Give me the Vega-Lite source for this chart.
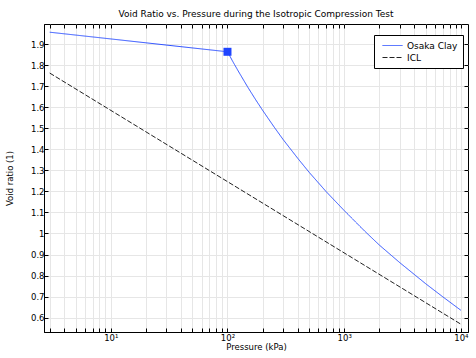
{
  "$schema": "https://vega.github.io/schema/vega-lite/v6.json",
  "width": 424,
  "height": 308,
  "autosize": {"type": "none"},
  "padding": {"left": 44, "top": 24, "right": 8, "bottom": 26},
  "title": {"text": "Void Ratio vs. Pressure during the Isotropic Compression Test", "font": "DejaVu Sans", "fontSize": 9, "fontWeight": "normal", "color": "black", "offset": 5},
  "config": {
    "view": {"stroke": "black", "strokeWidth": 1},
    "font": "DejaVu Sans",
    "axis": {
      "domainColor": "black",
      "tickColor": "black",
      "gridColor": "#e6e6e6",
      "gridWidth": 1,
      "labelFont": "DejaVu Sans",
      "labelFontSize": 8.5,
      "labelColor": "black",
      "titleFont": "DejaVu Sans",
      "titleFontSize": 8.5,
      "titleFontWeight": "normal",
      "titleColor": "black",
      "tickSize": -4
    },
    "legend": {"labelFont": "DejaVu Sans", "labelFontSize": 9}
  },
  "datasets": {
    "curves": [
      {"series": "Osaka Clay", "p": 3, "e": 1.956},
      {"series": "Osaka Clay", "p": 100, "e": 1.863},
      {"series": "Osaka Clay", "p": 105, "e": 1.842},
      {"series": "Osaka Clay", "p": 110, "e": 1.821},
      {"series": "Osaka Clay", "p": 115, "e": 1.802},
      {"series": "Osaka Clay", "p": 125, "e": 1.767},
      {"series": "Osaka Clay", "p": 150, "e": 1.693},
      {"series": "Osaka Clay", "p": 175, "e": 1.634},
      {"series": "Osaka Clay", "p": 200, "e": 1.585},
      {"series": "Osaka Clay", "p": 250, "e": 1.507},
      {"series": "Osaka Clay", "p": 300, "e": 1.446},
      {"series": "Osaka Clay", "p": 400, "e": 1.357},
      {"series": "Osaka Clay", "p": 500, "e": 1.291},
      {"series": "Osaka Clay", "p": 700, "e": 1.199},
      {"series": "Osaka Clay", "p": 1000, "e": 1.109},
      {"series": "Osaka Clay", "p": 1500, "e": 1.011},
      {"series": "Osaka Clay", "p": 2000, "e": 0.945},
      {"series": "Osaka Clay", "p": 3000, "e": 0.861},
      {"series": "Osaka Clay", "p": 5000, "e": 0.761},
      {"series": "Osaka Clay", "p": 7000, "e": 0.699},
      {"series": "Osaka Clay", "p": 10000, "e": 0.635},
      {"series": "ICL", "p": 3, "e": 1.762},
      {"series": "ICL", "p": 10000, "e": 0.569}
    ],
    "knee": [
      {"p": 100, "e": 1.863}
    ]
  },
  "layer": [
    {
      "data": {"name": "curves"},
      "mark": {"type": "line", "strokeWidth": 1, "clip": true},
      "encoding": {
        "x": {
          "field": "p", "type": "quantitative",
          "scale": {"type": "log", "domain": [2.68, 11500], "nice": false},
          "axis": {
            "orient": "bottom",
            "title": "Pressure (kPa)",
            "titlePadding": 1,
            "labelPadding": 5,
            "values": [3,4,5,6,7,8,9,10,20,30,40,50,60,70,80,90,100,200,300,400,500,600,700,800,900,1000,2000,3000,4000,5000,6000,7000,8000,9000,10000],
            "labelExpr": "datum.value == 10 ? '10¹' : datum.value == 100 ? '10²' : datum.value == 1000 ? '10³' : datum.value == 10000 ? '10⁴' : ''",
            "grid": true
          }
        },
        "y": {
          "field": "e", "type": "quantitative",
          "scale": {"domain": [0.532, 1.995], "nice": false, "zero": false},
          "axis": {
            "orient": "left",
            "title": "Void ratio (1)",
            "titlePadding": 16,
            "labelPadding": 4,
            "values": [0.6,0.7,0.8,0.9,1,1.1,1.2,1.3,1.4,1.5,1.6,1.7,1.8,1.9],
            "format": ".1~f",
            "grid": true
          }
        },
        "color": {
          "field": "series", "type": "nominal",
          "scale": {"domain": ["Osaka Clay", "ICL"], "range": ["#2b4fff", "#222222"]},
          "legend": {
            "title": null,
            "orient": "none",
            "legendX": 330,
            "legendY": 11,
            "fillColor": "white",
            "strokeColor": "black",
            "padding": 5,
            "symbolType": "M-0.4,0H3.6",
            "symbolSize": 100,
            "symbolStrokeWidth": 1,
            "labelFontSize": 9,
            "labelOffset": 17,
            "rowPadding": 1
          }
        },
        "strokeDash": {
          "field": "series", "type": "nominal",
          "scale": {"domain": ["Osaka Clay", "ICL"], "range": [[1, 0], [5, 2]]},
          "legend": null
        }
      }
    },
    {
      "data": {"name": "knee"},
      "mark": {"type": "square", "filled": true, "color": "#1f44ff", "size": 64, "opacity": 1},
      "encoding": {
        "x": {
          "field": "p", "type": "quantitative",
          "axis": {
            "orient": "top", "title": null, "labels": false, "grid": false, "domain": false,
            "values": [3,4,5,6,7,8,9,10,20,30,40,50,60,70,80,90,100,200,300,400,500,600,700,800,900,1000,2000,3000,4000,5000,6000,7000,8000,9000,10000]
          }
        },
        "y": {
          "field": "e", "type": "quantitative",
          "axis": {
            "orient": "right", "title": null, "labels": false, "grid": false, "domain": false,
            "values": [0.6,0.7,0.8,0.9,1,1.1,1.2,1.3,1.4,1.5,1.6,1.7,1.8,1.9]
          }
        }
      }
    }
  ],
  "resolve": {"axis": {"x": "independent", "y": "independent"}}
}
